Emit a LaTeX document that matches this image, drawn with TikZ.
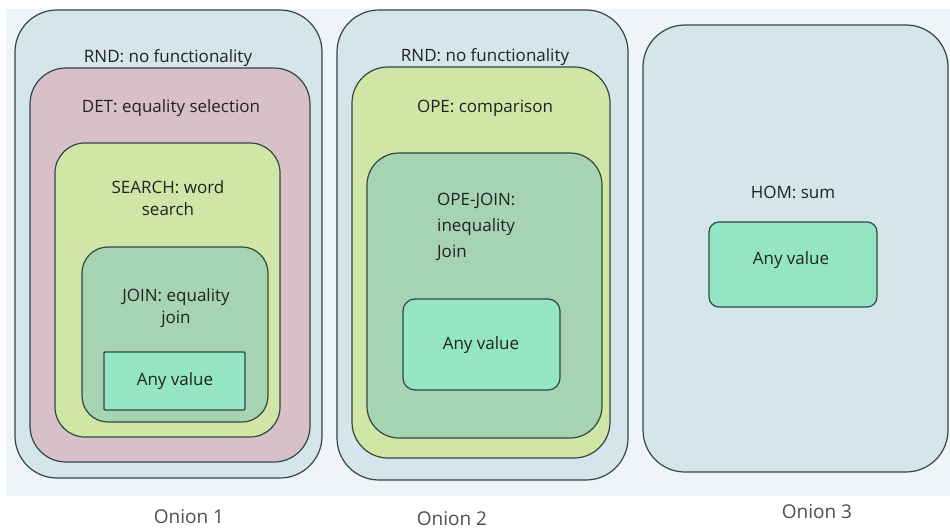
\documentclass[tikz,border=0pt]{standalone}
\usepackage{fontspec}
\setmainfont{Open Sans}
\definecolor{bgc}{HTML}{EEF4F7}
\definecolor{outc}{HTML}{D5E5EC}
\definecolor{detc}{HTML}{D8C0C8}
\definecolor{limec}{HTML}{CFE6A6}
\definecolor{joinc}{HTML}{A6D3B2}
\definecolor{anyc}{HTML}{94E5C4}
\definecolor{edgec}{HTML}{344644}
\definecolor{txtc}{HTML}{222222}
\tikzset{
  layer/.style={draw=edgec, line width=1.2pt},
  lbl/.style={text=txtc, font=\fontsize{17}{22}\selectfont, align=center, inner sep=0pt},
  onioncaption/.style={text=txtc!80, font=\fontsize{19}{22}\selectfont, inner sep=0pt}
}
\begin{document}
\begin{tikzpicture}[x=1pt,y=-1pt]
\useasboundingbox[fill=white] (0,0) rectangle (950,530);
\fill[bgc] (6,9) rectangle (950,496);
% Onion 1
\draw[layer, fill=outc, rounded corners=42] (15,10) rectangle (322,478);
\draw[layer, fill=detc, rounded corners=36] (30,68) rectangle (310,462);
\draw[layer, fill=limec, rounded corners=30] (55,143) rectangle (280,437);
\draw[layer, fill=joinc, rounded corners=26] (82,247) rectangle (268,422);
\draw[layer, fill=anyc, rounded corners=1] (104,352) rectangle (245,410);
\node[lbl] (rnd1) at (168,58) {RND: no functionality};
\node[lbl] (det1) at (171,108) {DET: equality selection};
\node[lbl, align=center] (srch1) at (168,198) {SEARCH: word\\search};
\node[lbl] (join1) at (176,308) {JOIN: equality\\join};
\node[lbl] (any1) at (175,381) {Any value};
\node[onioncaption] (on1) at (189,517) {Onion 1};
% Onion 2
\draw[layer, fill=outc, rounded corners=42] (337,10) rectangle (628,480);
\draw[layer, fill=limec, rounded corners=36] (352,67) rectangle (610,458);
\draw[layer, fill=joinc, rounded corners=32] (367,153) rectangle (602,438);
\draw[layer, fill=anyc, rounded corners=12] (403,299) rectangle (560,390);
\node[lbl] (rnd2) at (485,57) {RND: no functionality};
\node[lbl] (ope2) at (485,108) {OPE: comparison};
\node[lbl, align=left, anchor=north west, font=\fontsize{17}{26}\selectfont] (opej2) at (437,193) {OPE-JOIN:\\inequality\\Join};
\node[lbl] (any2) at (481,345) {Any value};
\node[onioncaption] (on2) at (452,519) {Onion 2};
% Onion 3
\draw[layer, fill=outc, rounded corners=42] (643,25) rectangle (948,472);
\draw[layer, fill=anyc, rounded corners=10] (709,222) rectangle (877,307);
\node[lbl] (hom3) at (793,192) {HOM: sum};
\node[lbl] (any3) at (791,260) {Any value};
\node[onioncaption] (on3) at (817,512) {Onion 3};
\end{tikzpicture}
\end{document}
